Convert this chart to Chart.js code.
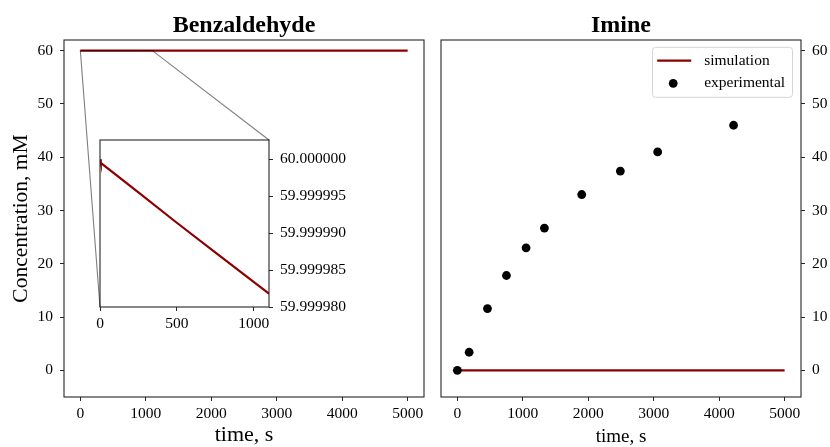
<!DOCTYPE html>
<html>
<head>
<meta charset="utf-8">
<script src="https://cdn.jsdelivr.net/npm/chart.js@4"></script>
<style>
html,body{margin:0;padding:0;background:#fff;}
#wrap{position:relative;width:830px;height:447px;overflow:hidden;background:#fff;}
.box{position:absolute;top:0;height:447px;}
</style>
</head>
<body>
<div id="wrap">
  <div class="box" style="left:0;width:430px;"><canvas id="benz"></canvas></div>
  <div class="box" style="left:0;width:430px;"><canvas id="inset"></canvas></div>
  <div class="box" style="left:430px;width:400px;"><canvas id="imine"></canvas></div>
</div>
<script>
// ---- data ----
const simTime = [0, 5, 250, 500, 750, 1000, 1100, 2000, 3000, 4000, 5000];
const benzaldehydeSim = [60, 59.9999995, 59.9999955, 59.9999914, 59.9999874, 59.9999834, 59.9999818, 59.9999673, 59.9999512, 59.9999351, 59.999919];
const imineSim = [0, 0, 0, 0, 0, 0, 0, 0, 0, 0, 0];
const expTime = [0, 180, 460, 750, 1050, 1330, 1900, 2490, 3060, 4220];
const imineExp = [0, 3.4, 11.6, 17.8, 23.0, 26.7, 33.0, 37.4, 41.0, 46.0];
const timeTicks = [0, 1000, 2000, 3000, 4000, 5000];
const concTicks = [0, 10, 20, 30, 40, 50, 60];
const insetTimeTicks = [0, 500, 1000];
const insetConcTicks = [59.99998, 59.999985, 59.99999, 59.999995, 60.0];
const timeRange = [-250, 5250];
const concRange = [-5, 62];
const insetTimeRange = [0, 1100];
const insetConcRange = [59.99998, 60.0000026];

const FONT = "'Liberation Serif', 'Times New Roman', serif";
const RED = '#8B0000';
const INK = '#000';
const FRAME = '#262626';

function pts(xs, ys) { return xs.map((x, i) => ({x: x, y: ys[i]})); }
function fixedTicks(arr) { return function(s) { s.ticks = arr.map(v => ({value: v})); }; }

const framePlugin = {
  id: 'frame',
  afterDatasetsDraw(chart) {
    const a = chart.chartArea, c = chart.ctx;
    c.save();
    c.strokeStyle = FRAME; c.lineWidth = 1.1;
    c.strokeRect(a.left, a.top, a.right - a.left, a.bottom - a.top);
    c.restore();
  }
};

function axisX(ticks, range, titleText, titleSize, fit) {
  return {
    type: 'linear', min: range[0], max: range[1],
    afterBuildTicks: fixedTicks(ticks),
    grid: {drawOnChartArea: false, drawTicks: true, tickLength: 4, color: FRAME},
    border: {display: false},
    ticks: {font: {family: FONT, size: 15.5}, color: INK, padding: 4, maxRotation: 0, autoSkip: false,
            callback: v => String(v)},
    title: titleText ? {display: true, text: titleText, color: INK, font: {family: FONT, size: titleSize}, padding: {top: 0, bottom: -1}} : {display: false},
    afterFit: s => { s.height = fit; }
  };
}
function axisY(ticks, range, pos, titleText, fit, fmt) {
  return {
    type: 'linear', position: pos, min: range[0], max: range[1],
    afterBuildTicks: fixedTicks(ticks),
    grid: {drawOnChartArea: false, drawTicks: true, tickLength: 4, color: FRAME},
    border: {display: false},
    ticks: {font: {family: FONT, size: 15.5}, color: INK, padding: 7, autoSkip: false,
            callback: fmt || (v => String(v))},
    title: titleText ? {display: true, text: titleText, color: INK, font: {family: FONT, size: 21.5}, padding: {top: 8, bottom: 0}} : {display: false},
    afterFit: s => { s.width = fit; }
  };
}
const common = {
  responsive: true, maintainAspectRatio: false, animation: false, events: [],
  devicePixelRatio: 1
};

// ---- Benzaldehyde (main) ----
const benzChart = new Chart(document.getElementById('benz'), {
  type: 'scatter',
  data: {datasets: [{label: 'simulation', data: pts(simTime, benzaldehydeSim), showLine: true,
    borderColor: RED, backgroundColor: RED, borderWidth: 2.2, pointRadius: 0}]},
  options: Object.assign({}, common, {
    layout: {padding: {left: 0, right: 6, top: 0, bottom: 0}},
    plugins: {legend: {display: false}, tooltip: {enabled: false},
      title: {display: true, text: 'Benzaldehyde', color: INK, fullSize: false,
        font: {family: FONT, size: 24, weight: 'bold'}, padding: {top: 11, bottom: 0.2}}},
    scales: {
      x: axisX(timeTicks, timeRange, 'time, s', 22, 50),
      y: axisY(concTicks, concRange, 'left', 'Concentration, mM', 64)
    }
  }),
  plugins: [framePlugin]
});

// ---- Inset ----
const insetBg = {
  id: 'insetBg',
  beforeDraw(chart) {
    const a = chart.chartArea, c = chart.ctx;
    c.save(); c.fillStyle = '#fff';
    c.fillRect(a.left, a.top, a.right - a.left, a.bottom - a.top);
    c.restore();
  }
};
const connectors = {
  id: 'connectors',
  afterDraw(chart) {
    const xs = benzChart.scales.x, ys = benzChart.scales.y;
    const a = chart.chartArea, c = chart.ctx;
    const x0 = xs.getPixelForValue(insetTimeRange[0]), x1 = xs.getPixelForValue(insetTimeRange[1]);
    const y0 = ys.getPixelForValue(insetConcRange[0]), y1 = ys.getPixelForValue(insetConcRange[1]);
    c.save();
    c.strokeStyle = 'rgba(0,0,0,0.5)'; c.lineWidth = 1.1;
    c.strokeRect(x0, y1, x1 - x0, Math.max(y0 - y1, 0.01));
    c.beginPath();
    c.moveTo(x0, y0); c.lineTo(a.left, a.bottom);
    c.moveTo(x1, y1); c.lineTo(a.right, a.top);
    c.stroke();
    c.restore();
  }
};
const insetChart = new Chart(document.getElementById('inset'), {
  type: 'scatter',
  data: {datasets: [{label: 'simulation', data: pts(simTime, benzaldehydeSim), showLine: true,
    borderColor: RED, backgroundColor: RED, borderWidth: 2.2, pointRadius: 0}]},
  options: Object.assign({}, common, {
    layout: {padding: {left: 100, right: 81, top: 140, bottom: 110}},
    plugins: {legend: {display: false}, tooltip: {enabled: false}, title: {display: false}},
    scales: {
      x: axisX(insetTimeTicks, insetTimeRange, null, 0, 30),
      y: axisY(insetConcTicks, insetConcRange, 'right', null, 80, v => Number(v).toFixed(6))
    }
  }),
  plugins: [insetBg, framePlugin, connectors]
});

// ---- Imine ----
const legendBox = {
  id: 'legendBox',
  afterDraw(chart) {
    const a = chart.chartArea, c = chart.ctx;
    const w = 140, h = 50, x = a.right - 8.5 - w, y = a.top + 7.3, r = 3;
    c.save();
    c.beginPath();
    c.moveTo(x + r, y); c.lineTo(x + w - r, y); c.arcTo(x + w, y, x + w, y + r, r);
    c.lineTo(x + w, y + h - r); c.arcTo(x + w, y + h, x + w - r, y + h, r);
    c.lineTo(x + r, y + h); c.arcTo(x, y + h, x, y + h - r, r);
    c.lineTo(x, y + r); c.arcTo(x, y, x + r, y, r); c.closePath();
    c.fillStyle = 'rgba(255,255,255,0.8)'; c.fill();
    c.strokeStyle = '#d5d5d5'; c.lineWidth = 1; c.stroke();
    chart.data.datasets.forEach((ds, i) => {
      const cy = y + 13.4 + i * 22.6;
      if (ds.showLine) {
        c.strokeStyle = ds.borderColor; c.lineWidth = ds.borderWidth;
        c.beginPath(); c.moveTo(x + 4.7, cy); c.lineTo(x + 38.7, cy); c.stroke();
      } else {
        c.fillStyle = ds.backgroundColor;
        c.beginPath(); c.arc(x + 20.7, cy, ds.pointRadius, 0, Math.PI * 2); c.fill();
      }
      c.fillStyle = INK; c.font = '15.5px ' + FONT; c.textBaseline = 'middle'; c.textAlign = 'left';
      c.fillText(ds.label, x + 51.7, cy);
    });
    c.restore();
  }
};
const imineChart = new Chart(document.getElementById('imine'), {
  type: 'scatter',
  data: {datasets: [
    {label: 'simulation', data: pts(simTime, imineSim), showLine: true, order: 1,
      borderColor: RED, backgroundColor: RED, borderWidth: 2.2, pointRadius: 0},
    {label: 'experimental', data: pts(expTime, imineExp), showLine: false, order: 0,
      borderColor: '#000', backgroundColor: '#000', pointRadius: 4.4, pointBorderWidth: 0}
  ]},
  options: Object.assign({}, common, {
    layout: {padding: {left: 11, right: 0, top: 0, bottom: 0}},
    plugins: {legend: {display: false}, tooltip: {enabled: false},
      title: {display: true, text: 'Imine', color: INK, fullSize: false,
        font: {family: FONT, size: 24, weight: 'bold'}, padding: {top: 11, bottom: 0.2}}},
    scales: {
      x: axisX(timeTicks, timeRange, 'time, s', 19, 50),
      y: axisY(concTicks, concRange, 'right', null, 29)
    }
  }),
  plugins: [framePlugin, legendBox]
});
</script>
</body>
</html>
